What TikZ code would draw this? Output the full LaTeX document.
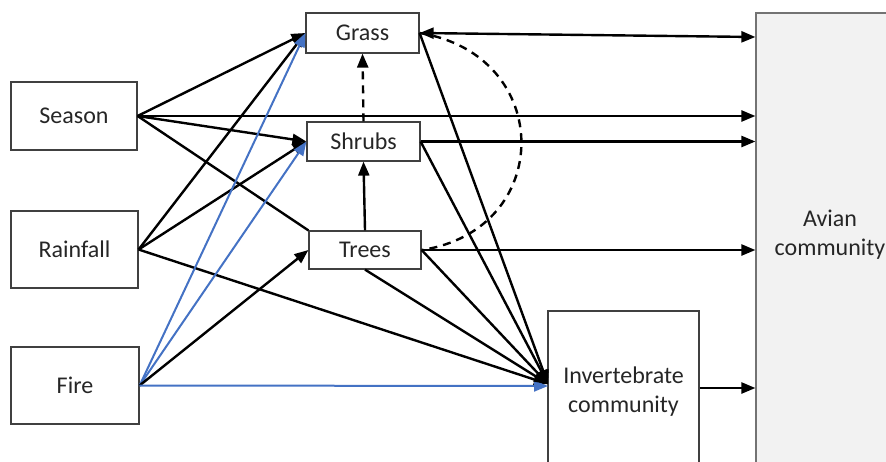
\documentclass[tikz,border=0pt]{standalone}
\usepackage{fontspec}
\setmainfont{Carlito}
\usetikzlibrary{arrows.meta}
\definecolor{lineblue}{HTML}{4472C4}

\begin{document}
\begin{tikzpicture}[x=0.5pt, y=-0.5pt,
    box/.style = {draw=black!75, line width=0.6pt, rectangle, inner sep=0pt, align=center, font=\fontsize{12}{14.5}\selectfont, text=black!85},
    arr/.style = {line width=1.2pt, -{Triangle[length=7pt, width=5.5pt]}},
    blu/.style = {arr, line width=1pt, draw=lineblue, -{Triangle[length=7pt, width=5.5pt, fill=lineblue]}},
    corr/.style = {line width=1.2pt, dash pattern=on 4pt off 3pt}]
    \clip (0,0) rectangle (886,461);

    \node[box, fill=black!5, draw=black!55, minimum width=80pt, minimum height=235pt] (avian) at (836,248) {};
    \node[box, draw=none] (aviantxt) at (830,235) {Avian\\community};

    \node[box, minimum width=63pt, minimum height=34pt] (season) at (74,116) {Season};
    \node[box, minimum width=63.5pt, minimum height=38.5pt] (rainfall) at (74.5,249.5) {Rainfall};
    \node[box, minimum width=64pt, minimum height=38.5pt] (fire) at (75,385.5) {Fire};
    \node[box, minimum width=56.5pt, minimum height=20pt] (grass) at (362.5,33) {Grass};
    \node[box, minimum width=56.5pt, minimum height=19.5pt] (shrubs) at (363.5,141.5) {Shrubs};
    \node[box, minimum width=56pt, minimum height=19pt] (trees) at (365,250) {Trees};
    \node[box, minimum width=75.5pt, minimum height=81pt] (invert) at (623.5,392) {Invertebrate\\community};
    \coordinate (invin) at (548,384);

    \draw[arr] (season.east) -- (grass.west);
    \draw[arr] (season.east) -- (season.east -| avian.west);
    \draw[arr] (season.east) -- (shrubs.west);
    \draw[line width=1.2pt] (season.east) -- (trees.north west);

    \draw[arr] (rainfall.east) -- (grass.west);
    \draw[arr] (rainfall.east) -- (shrubs.west);
    \draw[arr] (rainfall.east) -- (invin);

    \draw[blu] (fire.east) -- (grass.west);
    \draw[blu] (fire.east) -- (shrubs.west);
    \draw[arr] (fire.east) -- (trees.west);
    \draw[blu] (fire.east) -- ([yshift=-1pt]invin);

    \draw[arr, {Triangle[length=7pt, width=5.5pt]}-{Triangle[length=7pt, width=5.5pt]}] (grass.east) -- ([yshift=-2pt]grass.east -| avian.west);
    \draw[arr] (grass.east) -- (invin);
    \draw[corr] (grass.east) .. controls (555,55) and (555,230) .. (trees.east);

    \draw[arr, corr] (shrubs.north) -- (grass.south);
    \draw[arr] (shrubs.east) -- (shrubs.east -| avian.west);
    \draw[arr] (shrubs.east) -- (invin);

    \draw[arr] (trees.north) -- (shrubs.south);
    \draw[arr] (trees.east) -- (trees.east -| avian.west);
    \draw[arr] (trees.east) -- (invin);
    \draw[arr] (trees.south) -- (invin);

    \draw[arr] ([yshift=2pt]invert.east) -- ([yshift=2pt]invert.east -| avian.west);
\end{tikzpicture}
\end{document}
